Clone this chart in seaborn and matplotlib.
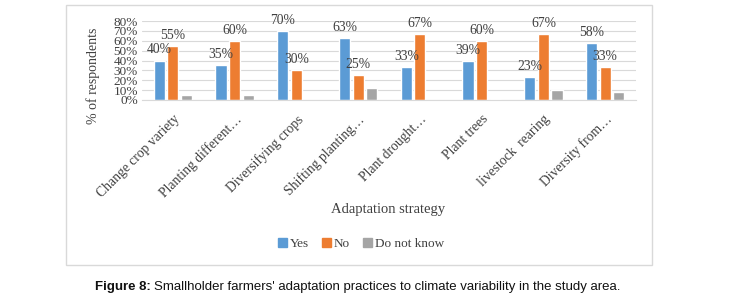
import matplotlib
matplotlib.use("Agg")
import matplotlib.pyplot as plt
from matplotlib.patches import Rectangle
import pandas as pd
import seaborn as sns

# data
strategies = ["Change crop variety", "Planting different\u2026", "Diversifying crops",
              "Shifting planting\u2026", "Plant drought\u2026", "Plant trees",
              "livestock  rearing", "Diversity from\u2026"]
yes = [40, 35, 70, 63, 33, 39, 23, 58]
no = [55, 60, 30, 25, 67, 60, 67, 33]
dont_know = [5, 5, 0, 12, 0, 1, 10, 8]
responses = ["Yes", "No", "Do not know"]
y_ticks = [0, 10, 20, 30, 40, 50, 60, 70, 80]

colors = {"Yes": "#5B9BD5", "No": "#ED7D31", "Do not know": "#A5A5A5"}
text_col = "#404040"
serif = "Liberation Serif"

df = pd.DataFrame({
    "strategy": strategies * 3,
    "response": ["Yes"] * 8 + ["No"] * 8 + ["Do not know"] * 8,
    "pct": yes + no + dont_know,
})

sns.set_style("white")
plt.rcParams["font.family"] = [serif, "DejaVu Serif"]

W, H = 733, 298
fig = plt.figure(figsize=(W / 100, H / 100), dpi=100)
ax = fig.add_axes([142 / W, 1 - 100 / H, (636 - 142) / W, 79 / H])

sns.barplot(data=df, x="strategy", y="pct", hue="response", hue_order=responses,
            palette=colors, saturation=1, width=0.66, gap=0.18, legend=False, ax=ax)

# value labels on Yes and No only
for cont, vals in zip(ax.containers[:2], [yes, no]):
    ax.bar_label(cont, labels=[f"{v}%" for v in vals], padding=3,
                 fontsize=9.8, color=text_col, clip_on=False)

ax.set_ylim(0, 80)
ax.set_yticks(y_ticks)
ax.set_yticklabels([f"{t}%" for t in y_ticks], fontsize=9.5, color=text_col)
ax.yaxis.grid(True, color="#D9D9D9", lw=0.8)
ax.set_axisbelow(True)
for s in ["top", "left", "right"]:
    ax.spines[s].set_visible(False)
ax.spines["bottom"].set_color("#D9D9D9")
ax.tick_params(axis="y", length=0, pad=3)
ax.tick_params(axis="x", length=0, pad=9)
ax.set_xticks(range(len(strategies)))
ax.set_xticklabels(strategies, rotation=45, ha="right", rotation_mode="anchor",
                   fontsize=9.8, color=text_col)
ax.set_xlabel("")
ax.set_ylabel("")

fig.text(93 / W, 1 - 76 / H, "% of respondents", rotation=90, ha="center", va="center",
         fontsize=10, color=text_col)
fig.text(388 / W, 1 - 209 / H, "Adaptation strategy", ha="center", va="center",
         fontsize=10.5, color=text_col)

handles = [Rectangle((0, 0), 1, 1, color=colors[r]) for r in responses]
fig.legend(handles, responses, loc="center", bbox_to_anchor=(361 / W, 1 - 244 / H),
           ncol=3, frameon=False, fontsize=9.5, handlelength=0.7, handleheight=0.7,
           handletextpad=0.2, columnspacing=1.0, labelcolor=text_col)

# chart frame
fig.patches.append(Rectangle((66 / W, 1 - 265 / H), (652 - 66) / W, (265 - 5) / H,
                             transform=fig.transFigure, fill=False,
                             edgecolor="#D9D9D9", lw=1))

# caption
cap_y = 1 - 287 / H
t1 = fig.text(95 / W, cap_y, "Figure 8:", fontweight="bold", fontsize=9.5,
              family="Liberation Sans", color="#111111", va="center")
fig.canvas.draw()
bb = t1.get_window_extent()
fig.text((bb.x1 + 3) / W, cap_y,
         "Smallholder farmers' adaptation practices to climate variability in the study area.",
         fontsize=9.5, family="Liberation Sans", color="#111111", va="center")

fig.savefig("out.png", dpi=100)
